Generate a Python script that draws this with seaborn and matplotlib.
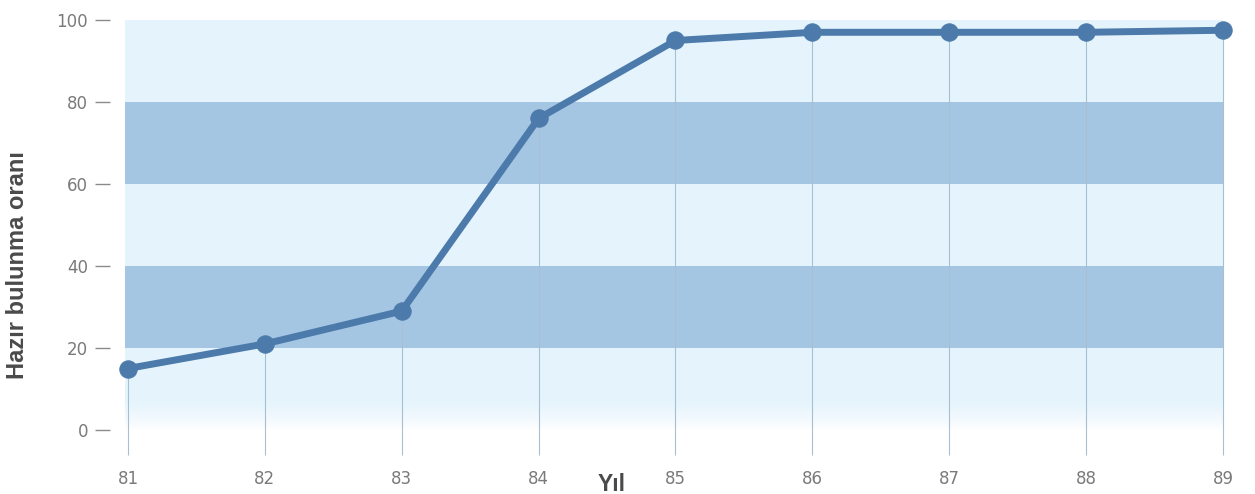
import numpy as np
import pandas as pd
import matplotlib
matplotlib.use("Agg")
import matplotlib.pyplot as plt
import seaborn as sns

# Data
years = [81, 82, 83, 84, 85, 86, 87, 88, 89]
rates = [15, 21, 29, 76, 95, 97, 97, 97, 97.5]
yticks = [0, 20, 40, 60, 80, 100]
dark_bands = [(20, 40), (60, 80)]

LINE = "#4c7bab"
DARK = "#a5c6e3"
LIGHT = "#e5f4fc"
TEXT = "#7a7a7a"
LABEL = "#4a4a4a"

sns.set_theme(style="white")
plt.rcParams["font.family"] = ["Liberation Sans", "DejaVu Sans"]

W, H = 1255, 494
fig = plt.figure(figsize=(W / 100, H / 100), dpi=100)
left_px, right_px, top_px, bottom_px = 125, 1223, 20, 430
ax = fig.add_axes([left_px / W, 1 - bottom_px / H,
                   (right_px - left_px) / W, (bottom_px - top_px) / H])

px_per_year = 137.0
ax.set_xlim(years[0] - 3 / px_per_year, years[-1])
ax.set_ylim(0, 100)

# Banded background
ax.axhspan(0, 100, color=LIGHT, zorder=0, lw=0)
for lo, hi in dark_bands:
    ax.axhspan(lo, hi, color=DARK, zorder=0.5, lw=0)

# Fade the lowest band to white
grad = np.linspace(1, 0, 100).reshape(-1, 1)
rgba = np.ones((100, 1, 4))
rgba[..., 3] = grad ** 1.5
ax.imshow(rgba, extent=(ax.get_xlim()[0], ax.get_xlim()[1], 0, 8),
          origin="lower", aspect="auto", zorder=0.8, interpolation="bilinear")
ax.set_ylim(0, 100)

# Drop lines from each point down past the axis
ax.vlines(years, -6, rates, colors="#a8bfd1", linewidth=0.8, zorder=1,
          clip_on=False)

df = pd.DataFrame({"Yıl": years, "Oran": rates})
sns.lineplot(data=df, x="Yıl", y="Oran", ax=ax, color=LINE, linewidth=5,
             marker="o", markersize=12.5, markeredgecolor=LINE,
             markerfacecolor=LINE, zorder=3, clip_on=False)

for s in ["top", "right", "bottom"]:
    ax.spines[s].set_visible(False)
ax.spines["left"].set_position(("outward", 15 * 0.72))
ax.spines["left"].set_visible(False)

tick_font = {"family": "DejaVu Sans", "size": 12}
ax.set_yticks(yticks)
ax.set_yticklabels([str(v) for v in yticks], fontdict=tick_font)
ax.tick_params(axis="y", left=True, length=15 * 0.72, width=1,
               color="#8a8a8a", labelcolor=TEXT, pad=5, direction="out")
ax.set_xticks(years)
ax.set_xticklabels([str(v) for v in years], fontdict=tick_font)
ax.tick_params(axis="x", bottom=False, length=0, labelcolor=TEXT, pad=29)

ax.set_xlabel("")
ax.set_ylabel("")
fig.text(612 / W, 1 - 484 / H, "Yıl", ha="center", va="center",
         fontsize=16.5, fontweight="bold", color=LABEL)
fig.text(18 / W, 1 - 265 / H, "Hazır bulunma oranı", ha="center",
         va="center", rotation=90, fontsize=17, fontweight="bold",
         color=LABEL)

fig.savefig("out.png", dpi=100, facecolor="white")
